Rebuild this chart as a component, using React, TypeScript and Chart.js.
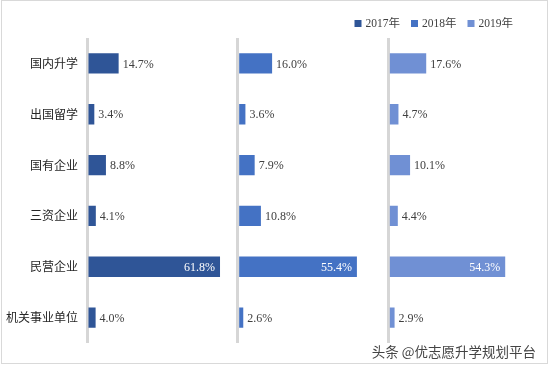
import React, { useEffect, useRef } from "react";
import { Chart, registerables } from "chart.js";

Chart.register(...registerables);

const categories = ["国内升学", "出国留学", "国有企业", "三资企业", "民营企业", "机关事业单位"];
const seriesLabels = ["2017年", "2018年", "2019年"];
const values2017 = [14.7, 3.4, 8.8, 4.1, 61.8, 4.0];
const values2018 = [16.0, 3.6, 7.9, 10.8, 55.4, 2.6];
const values2019 = [17.6, 4.7, 10.1, 4.4, 54.3, 2.9];
const seriesColors = ["#2F5597", "#4472C4", "#7090D4"];
const axisMax = 70;
const watermarkText = "头条 @优志愿升学规划平台";

const valueLabelsPlugin = {
  id: "valueLabels",
  afterDatasetsDraw(chart: any) {
    const ctx = chart.ctx;
    ctx.save();
    ctx.font = '12px "Liberation Serif", "Times New Roman", serif';
    ctx.textBaseline = "middle";
    chart.data.datasets.forEach((ds: any, di: number) => {
      const meta = chart.getDatasetMeta(di);
      meta.data.forEach((bar: any, i: number) => {
        const v = ds.data[i] as number;
        const text = v.toFixed(1) + "%";
        const { x, y, base } = bar.getProps(["x", "y", "base"], true);
        if (x - base > 80) {
          ctx.fillStyle = "#ffffff";
          ctx.textAlign = "right";
          ctx.fillText(text, x - 5, y + 1);
        } else {
          ctx.fillStyle = "#404040";
          ctx.textAlign = "left";
          ctx.fillText(text, x + 4, y + 1);
        }
      });
    });
    ctx.restore();
  },
};

const legendPlugin = {
  id: "topRightLegend",
  afterDraw(chart: any) {
    const ctx = chart.ctx;
    ctx.save();
    ctx.font = '11.5px "Liberation Serif", "Noto Sans CJK SC", serif';
    ctx.textBaseline = "middle";
    ctx.textAlign = "left";
    const box = 7;
    const gapBoxText = 4;
    const gapItems = 11;
    const items = chart.data.datasets.map((ds: any) => ({
      label: ds.label as string,
      color: ds.backgroundColor as string,
      w: ctx.measureText(ds.label).width as number,
    }));
    const total =
      items.reduce((s: number, it: any) => s + box + gapBoxText + it.w, 0) +
      gapItems * (items.length - 1);
    let x = 513 - total;
    const cy = 23.5;
    items.forEach((it: any) => {
      ctx.fillStyle = it.color;
      ctx.fillRect(x, cy - box / 2, box, box);
      x += box + gapBoxText;
      ctx.fillStyle = "#404040";
      ctx.fillText(it.label, x, cy + 0.5);
      x += it.w + gapItems;
    });
    ctx.restore();
  },
};

function makeXScale() {
  return {
    type: "linear" as const,
    position: "bottom" as const,
    stack: "panels",
    stackWeight: 1,
    min: 0,
    max: axisMax,
    offset: false,
    ticks: { display: false, stepSize: 10 },
    border: { display: false },
    grid: {
      drawTicks: false,
      lineWidth: 3,
      color: (c: any) => (c.tick && c.tick.value === 0 ? "#d6d6d6" : "rgba(0,0,0,0)"),
    },
    afterFit: (scale: any) => {
      scale.height = 0;
    },
  };
}

export default function App() {
  const canvasRef = useRef<HTMLCanvasElement | null>(null);

  useEffect(() => {
    if (!canvasRef.current) return;
    const datasetValues = [values2017, values2018, values2019];
    const chart = new Chart(canvasRef.current, {
      type: "bar",
      data: {
        labels: categories,
        datasets: datasetValues.map((vals, i) => ({
          label: seriesLabels[i],
          data: vals,
          backgroundColor: seriesColors[i],
          xAxisID: "x" + (i + 1),
          yAxisID: "y",
          grouped: false,
          barPercentage: 0.4,
          categoryPercentage: 1.0,
        })),
      },
      options: {
        indexAxis: "y",
        animation: false,
        responsive: true,
        maintainAspectRatio: false,
        layout: { padding: { top: 38, bottom: 25, left: 0, right: 10 } },
        plugins: {
          legend: { display: false },
          tooltip: { enabled: false },
        },
        scales: {
          x1: makeXScale(),
          x2: makeXScale(),
          x3: makeXScale(),
          y: {
            type: "category",
            position: "left",
            grid: { display: false, drawTicks: false, tickLength: 0 },
            border: { display: false },
            ticks: {
              padding: 9,
              color: "#262626",
              font: { family: '"Noto Sans CJK SC", sans-serif', size: 12 },
            },
            afterFit: (scale: any) => {
              scale.width = 87;
            },
          },
        },
      } as any,
      plugins: [valueLabelsPlugin, legendPlugin],
    });
    return () => chart.destroy();
  }, []);

  return (
    <div
      style={{
        position: "absolute",
        left: 0,
        top: 0,
        width: 549,
        height: 368,
        background: "#ffffff",
      }}
    >
      <div
        style={{
          position: "absolute",
          left: 1,
          top: 0,
          width: 547,
          height: 364,
          border: "1px solid #d9d9d9",
          boxSizing: "border-box",
        }}
      />
      <canvas ref={canvasRef} style={{ position: "absolute", left: 0, top: 0 }} />
      <div
        style={{
          position: "absolute",
          right: 13,
          top: 342,
          fontFamily: '"Noto Sans CJK SC", sans-serif',
          fontSize: 13.5,
          lineHeight: "18px",
          color: "#444444",
          whiteSpace: "nowrap",
        }}
      >
        {watermarkText}
      </div>
    </div>
  );
}
